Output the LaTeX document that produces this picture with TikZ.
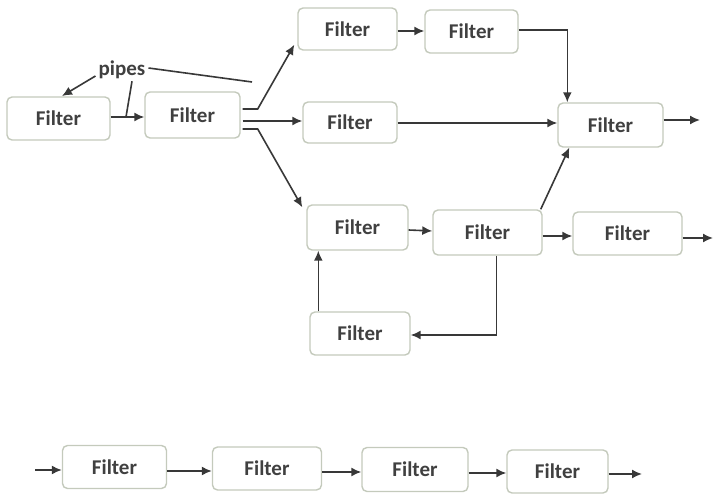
\documentclass[tikz,border=0pt]{standalone}
\usepackage{fontspec}
\setmainfont{Carlito}
\usetikzlibrary{arrows.meta,calc}
\definecolor{boxline}{HTML}{C4CABC}
\definecolor{ln}{HTML}{383838}
\definecolor{txt}{HTML}{404040}
\tikzset{
  fbox/.style={draw=boxline, line width=1.4pt, rounded corners=5pt, fill=white,
    font=\bfseries\fontsize{21}{21}\selectfont, text=txt, inner sep=0pt},
  pipe/.style={draw=ln, line width=1.6pt, -{Latex[length=10pt,width=9pt]}},
  plain/.style={draw=ln, line width=1.6pt},
}
\newcommand{\fnode}[5]{\node[fbox, minimum width=#2pt, minimum height=#3pt] (#1) at (#4,#5) {Filter};}
\begin{document}
\begin{tikzpicture}[x=1pt,y=-1pt]
\useasboundingbox (0,0) rectangle (713,494);
% network of filters
\fnode{A}{103}{43}{58.5}{118.5}
\fnode{B}{95}{46}{192.5}{115}
\fnode{C}{99}{42}{347.5}{29}
\fnode{D}{93}{43}{471.5}{31.5}
\fnode{E}{94}{41}{350}{122.5}
\fnode{F}{105}{44}{610.5}{125}
\fnode{G}{109}{43}{627.5}{233.5}
\fnode{H}{101}{45}{357.5}{227.5}
\fnode{I}{109}{45}{487.5}{232.5}
\fnode{J}{100}{43}{360}{333.5}
% pipeline row
\fnode{K}{104}{43}{114.5}{467}
\fnode{L}{109}{43}{267}{468.5}
\fnode{M}{106}{44}{415}{469.5}
\fnode{N}{101}{43}{557.5}{471.5}

% label
\node[font=\bfseries\fontsize{21}{21}\selectfont, text=txt, inner sep=1pt] (pipes) at (122,70) {pipes};
\coordinate (pA) at (62,96);
\coordinate (pB) at (126,117);
\coordinate (pC) at (252,82);
\draw[pipe] ($(pipes.west)+(-2,6)$) -- (pA);
\draw[plain] ($(pipes.south)+(10,1)$) -- (pB);
\draw[plain] ($(pipes.east)+(2,-2)$) -- (pC);

% connectors
\draw[pipe] (A.east |- 0,117) -- (B.west |- 0,117);
\draw[pipe] ($(B.east)+(2,-6)$) -- ++(15,0) -- ($(C.south west)+(-3,-6)$);
\draw[pipe] ($(B.east)+(2,6)$) -- (E.west |- 0,121);
\draw[pipe] ($(B.east)+(2,14)$) -- ++(15,0) -- ($(H.north west)+(-4,3)$);
\draw[pipe] (C.east |- 0,31) -- (D.west |- 0,31);
\draw[pipe] (D.east |- 0,30) -| ($(F.north west)+(10,0)$);
\draw[pipe] (E.east |- 0,123) -- (F.west |- 0,123);
\draw[pipe] ($(I.north east)+(-2,0)$) -- ($(F.south west)+(12,0)$);
\draw[pipe] (I.east |- 0,236) -- (G.west |- 0,236);
\draw[pipe] (H.east |- 0,230) -- (I.west |- 0,231);
\draw[pipe] ($(I.south)+(9,0)$) |- (J.east |- 0,335);
\draw[pipe] ($(J.north west)+(9,0)$) -- ($(H.south west)+(12,0)$);
\coordinate (outF) at (700,120);
\coordinate (outG) at (713,238);
\draw[pipe] (F.east |- outF) -- (outF);
\draw[pipe] (G.east |- outG) -- (outG);

% pipeline row connectors
\coordinate (inK) at (35,470);
\coordinate (outN) at (642,474);
\draw[pipe] (inK) -- (K.west |- inK);
\draw[pipe] (K.east |- 0,471) -- (L.west |- 0,471);
\draw[pipe] (L.east |- 0,472) -- (M.west |- 0,472);
\draw[pipe] (M.east |- 0,473) -- (N.west |- 0,473);
\draw[pipe] (N.east |- outN) -- (outN);
\end{tikzpicture}
\end{document}
